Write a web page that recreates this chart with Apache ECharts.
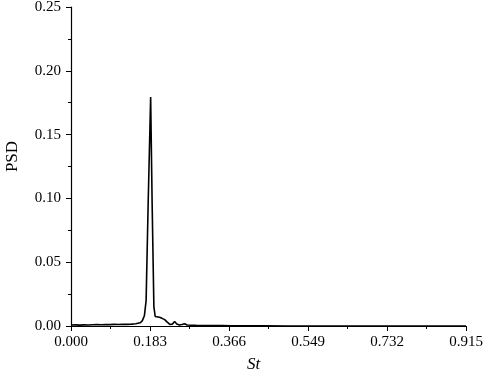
<!DOCTYPE html>
<html>
<head>
<meta charset="utf-8">
<script src="https://cdn.jsdelivr.net/npm/echarts@6/dist/echarts.min.js"></script>
<style>html,body{margin:0;padding:0;background:#fff;}#c{width:484px;height:374px;}</style>
</head>
<body>
<div id="c"></div>
<script>
const stValues = [0.000,0.010,0.020,0.030,0.040,0.050,0.060,0.070,0.080,0.090,0.100,0.110,0.120,0.130,0.140,0.150,0.160,0.165,0.170,0.174,0.179,0.1845,0.188,0.192,0.195,0.199,0.205,0.211,0.217,0.223,0.229,0.235,0.240,0.245,0.251,0.257,0.263,0.269,0.278,0.290,0.310,0.330,0.350,0.370,0.400,0.450,0.500,0.600,0.700,0.800,0.915];
const psdValues = [0.0008,0.0009,0.0007,0.0009,0.0008,0.0010,0.0011,0.0010,0.0012,0.0011,0.0013,0.0012,0.0014,0.0013,0.0015,0.0018,0.0025,0.0040,0.0080,0.0200,0.1000,0.1795,0.0950,0.0150,0.0075,0.0065,0.0068,0.0060,0.0050,0.0030,0.0012,0.0015,0.0035,0.0015,0.0008,0.0012,0.0018,0.0008,0.0006,0.0005,0.0004,0.0004,0.0003,0.0002,0.0001,0.0001,0.0000,0.0000,0.0000,0.0000,0.0000];
const xTicks = [0.000,0.183,0.366,0.549,0.732,0.915];
const yTicks = [0.00,0.05,0.10,0.15,0.20,0.25];

const chart = echarts.init(document.getElementById('c'));
const font = 'Liberation Serif';
chart.setOption({
  animation: false,
  backgroundColor: '#fff',
  grid: {left: 71, right: 18, top: 7, bottom: 48, containLabel: false, outerBoundsMode: 'none'},
  xAxis: {
    type: 'value', min: xTicks[0], max: xTicks[xTicks.length-1], interval: 0.183,
    name: 'St', nameLocation: 'middle', nameGap: 30,
    nameTextStyle: {fontFamily: font, fontSize: 17, fontStyle: 'italic', color: '#000', padding: [0, 30, 0, 0]},
    axisLine: {lineStyle: {color: '#000', width: 1.2}},
    axisTick: {inside: false, length: 5, lineStyle: {color: '#000'}},
    minorTick: {show: true, splitNumber: 2, length: 3, lineStyle: {color: '#000'}},
    splitLine: {show: false},
    axisLabel: {fontFamily: font, fontSize: 15, color: '#000', margin: 9, formatter: v => v.toFixed(3)}
  },
  yAxis: {
    type: 'value', min: yTicks[0], max: yTicks[yTicks.length-1], interval: 0.05,
    name: 'PSD', nameLocation: 'middle', nameGap: 50,
    nameTextStyle: {fontFamily: font, fontSize: 17, color: '#000', padding: [0, 0, 0, 20]},
    axisLine: {show: true, lineStyle: {color: '#000', width: 1.2}},
    axisTick: {show: true, inside: false, length: 5, lineStyle: {color: '#000'}},
    minorTick: {show: true, splitNumber: 2, length: 3, lineStyle: {color: '#000'}},
    splitLine: {show: false},
    axisLabel: {fontFamily: font, fontSize: 15, color: '#000', margin: 10, formatter: v => v.toFixed(2)}
  },
  series: [{
    type: 'line',
    data: stValues.map((s, i) => [s, psdValues[i]]),
    showSymbol: false,
    lineStyle: {color: '#000', width: 1.6},
    z: 1
  }]
});
</script>
</body>
</html>
